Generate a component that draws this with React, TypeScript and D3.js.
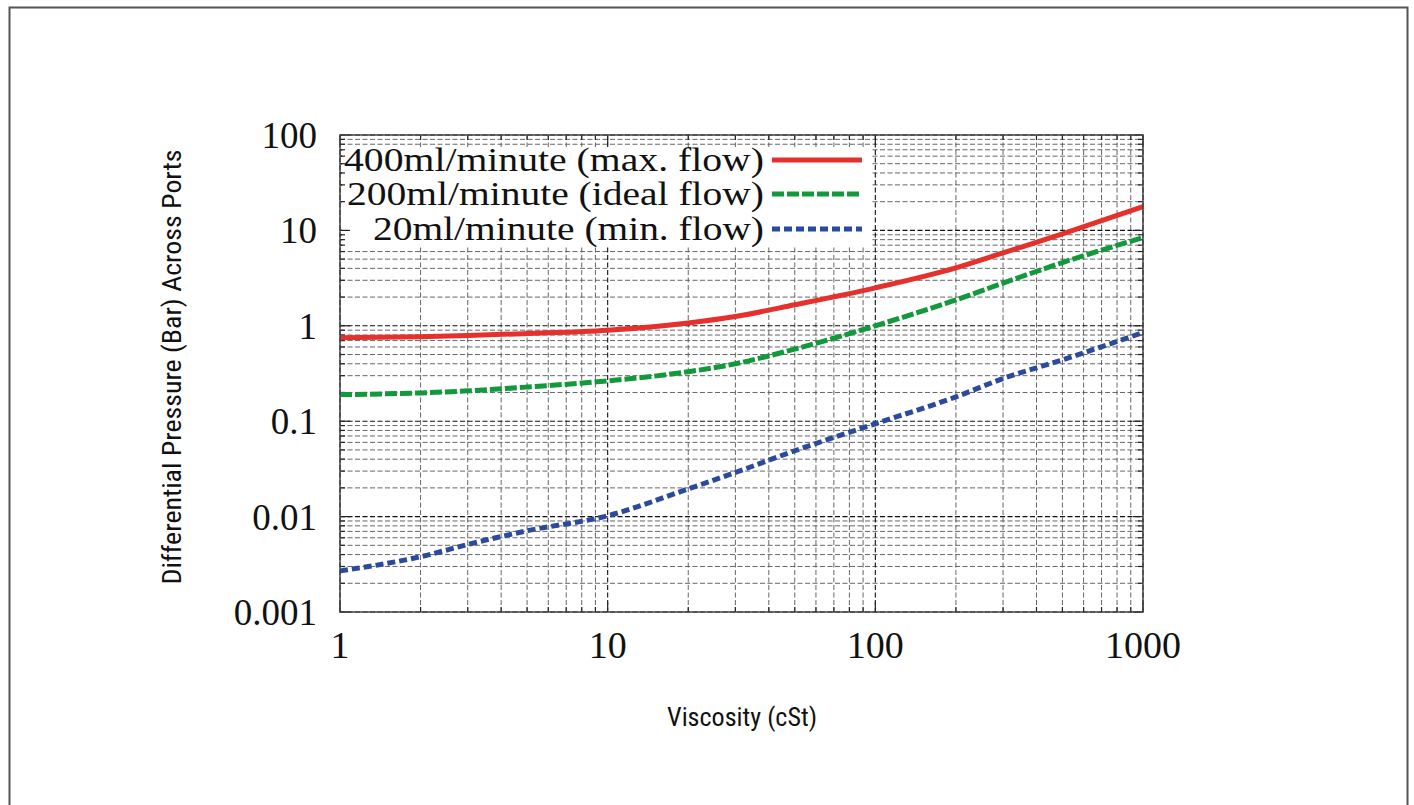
import React from "react";
import * as d3 from "d3";

const viscosity = [1, 2, 3, 5, 10, 20, 30, 50, 100, 200, 300, 500, 1000];
const maxFlow = [0.75, 0.77, 0.79, 0.83, 0.9, 1.07, 1.25, 1.66, 2.5, 4.05, 5.8, 9.2, 17.7];
const idealFlow = [0.19, 0.198, 0.208, 0.228, 0.265, 0.33, 0.4, 0.57, 1.0, 1.87, 2.8, 4.6, 8.4];
const minFlow = [0.0027, 0.0038, 0.0051, 0.0071, 0.0102, 0.0195, 0.029, 0.049, 0.094, 0.18, 0.28, 0.44, 0.85];

const seriesNames = ["400ml/minute (max. flow)", "200ml/minute (ideal flow)", "20ml/minute (min. flow)"];
const seriesColors = ["#e5302c", "#12993c", "#2b4a9e"];
const seriesDash = ["none", "12,3", "8,4"];

const xTickValues = [1, 10, 100, 1000];
const xTickLabels = ["1", "10", "100", "1000"];
const yTickValues = [0.001, 0.01, 0.1, 1, 10, 100];
const yTickLabels = ["0.001", "0.01", "0.1", "1", "10", "100"];

const W = 1414;
const H = 805;
const L = 340, R = 1143, T = 135, B = 612;

export default function App() {
  const x = d3.scaleLog().domain([1, 1000]).range([L, R]);
  const y = d3.scaleLog().domain([0.001, 100]).range([B, T]);

  const xMinor: number[] = [];
  for (let d = 1; d < 1000; d *= 10) for (let k = 2; k <= 9; k++) xMinor.push(d * k);
  const yMinor: number[] = [];
  for (let d = 0.001; d < 99; d *= 10) for (let k = 2; k <= 9; k++) yMinor.push(d * k);

  const line = d3
    .line<[number, number]>()
    .x((p) => x(p[0]))
    .y((p) => y(p[1]))
    .curve(d3.curveMonotoneX);

  const series = [maxFlow, idealFlow, minFlow];
  const legendY = [160, 194, 229];
  const legendLen = [420, 417, 391];
  const serif = "Liberation Serif";
  const narrow = "Roboto Condensed";

  return (
    <svg
      width={W}
      height={H}
      style={{ position: "fixed", left: 0, top: 0, background: "#fff" }}
      xmlns="http://www.w3.org/2000/svg"
    >
      <rect x={0} y={0} width={W} height={H} fill="#fff" />
      <rect x={9.5} y={7.5} width={1398} height={830} fill="none" stroke="#555" strokeWidth={2} />

      {/* minor grid */}
      <g stroke="#555" strokeWidth={0.9} strokeDasharray="5,2.5">
        {xMinor.map((v) => (
          <line key={"xm" + v} x1={x(v)} x2={x(v)} y1={T} y2={B} />
        ))}
        {yMinor.map((v) => (
          <line key={"ym" + v} x1={L} x2={R} y1={y(v)} y2={y(v)} />
        ))}
      </g>
      {/* major grid */}
      <g stroke="#111" strokeWidth={1.1} strokeDasharray="5,2.5">
        {xTickValues.map((v) => (
          <line key={"xM" + v} x1={x(v)} x2={x(v)} y1={T} y2={B} />
        ))}
        {yTickValues.map((v) => (
          <line key={"yM" + v} x1={L} x2={R} y1={y(v)} y2={y(v)} />
        ))}
      </g>
      {/* ticks inward on all sides */}
      <g stroke="#222" strokeWidth={1.2}>
        {xTickValues.map((v) => (
          <g key={"xt" + v}>
            <line x1={x(v)} x2={x(v)} y1={B} y2={B - 10} />
            <line x1={x(v)} x2={x(v)} y1={T} y2={T + 10} />
          </g>
        ))}
        {xMinor.map((v) => (
          <g key={"xmt" + v}>
            <line x1={x(v)} x2={x(v)} y1={B} y2={B - 5} />
            <line x1={x(v)} x2={x(v)} y1={T} y2={T + 5} />
          </g>
        ))}
        {yTickValues.map((v) => (
          <g key={"yt" + v}>
            <line x1={L} x2={L + 10} y1={y(v)} y2={y(v)} />
            <line x1={R} x2={R - 10} y1={y(v)} y2={y(v)} />
          </g>
        ))}
        {yMinor.map((v) => (
          <g key={"ymt" + v}>
            <line x1={L} x2={L + 5} y1={y(v)} y2={y(v)} />
            <line x1={R} x2={R - 5} y1={y(v)} y2={y(v)} />
          </g>
        ))}
      </g>

      {/* legend box (opaque) */}
      <rect x={342} y={147} width={530} height={100} fill="#fff" />
      <g stroke="#222" strokeWidth={1.2}>
        {[...yTickValues, ...yMinor]
          .filter((v) => y(v) > 147 && y(v) < 247)
          .map((v) => (
            <line key={"lt" + v} x1={L} x2={L + (yTickValues.includes(v) ? 10 : 5)} y1={y(v)} y2={y(v)} />
          ))}
      </g>

      {/* curves */}
      {series.map((s, i) => (
        <path
          key={"s" + i}
          d={line(viscosity.map((v, j) => [v, s[j]] as [number, number])) || ""}
          fill="none"
          stroke={seriesColors[i]}
          strokeWidth={5}
          strokeDasharray={seriesDash[i]}
        />
      ))}

      {/* plot border */}
      <rect x={L} y={T} width={R - L} height={B - T} fill="none" stroke="#444" strokeWidth={1.5} />

      {/* legend entries */}
      {seriesNames.map((n, i) => (
        <g key={"lg" + i}>
          <text
            x={764}
            y={legendY[i] + 11}
            textAnchor="end"
            fontFamily={serif}
            fontSize={34}
            textLength={legendLen[i]}
            lengthAdjust="spacingAndGlyphs"
            fill="#111"
          >
            {n}
          </text>
          <line
            x1={772}
            x2={862}
            y1={legendY[i]}
            y2={legendY[i]}
            stroke={seriesColors[i]}
            strokeWidth={5}
            strokeDasharray={seriesDash[i]}
          />
        </g>
      ))}

      {/* y tick labels */}
      {yTickValues.map((v, i) => (
        <text
          key={"yl" + v}
          x={317}
          y={y(v) + 13}
          textAnchor="end"
          fontFamily={serif}
          fontSize={37}
          fill="#111"
        >
          {yTickLabels[i]}
        </text>
      ))}
      {/* x tick labels */}
      {xTickValues.map((v, i) => (
        <text
          key={"xl" + v}
          x={x(v)}
          y={658}
          textAnchor="middle"
          fontFamily={serif}
          fontSize={38}
          fill="#111"
        >
          {xTickLabels[i]}
        </text>
      ))}

      {/* axis titles */}
      <text
        x={742}
        y={726}
        textAnchor="middle"
        fontFamily={narrow}
        fontSize={25}
        textLength={150}
        lengthAdjust="spacingAndGlyphs"
        fill="#111"
      >
        Viscosity (cSt)
      </text>
      <text
        transform={`translate(181,${367}) rotate(-90)`}
        textAnchor="middle"
        fontFamily={narrow}
        fontSize={25}
        textLength={435}
        lengthAdjust="spacingAndGlyphs"
        fill="#111"
      >
        Differential Pressure (Bar) Across Ports
      </text>
    </svg>
  );
}
